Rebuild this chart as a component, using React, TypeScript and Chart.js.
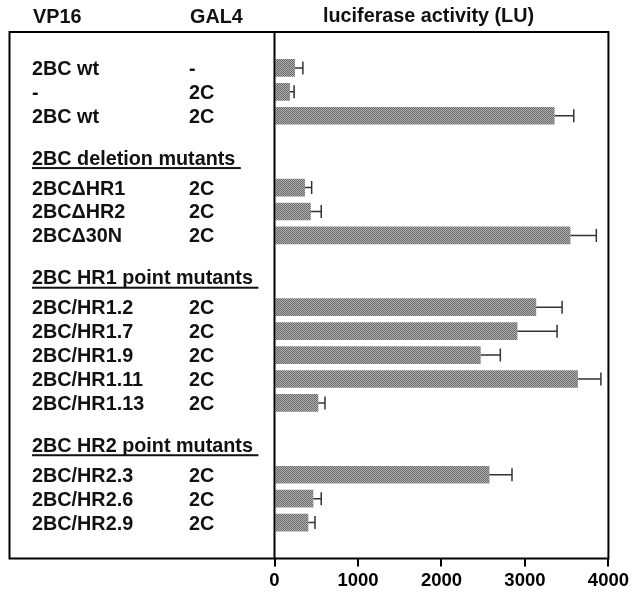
import React, { useEffect, useRef } from "react";
import { Chart, registerables } from "chart.js";

Chart.register(...registerables);

// ---- data ----
const columnHeaders = ["VP16", "GAL4"];
const axisTitle = "luciferase activity (LU)";
const groupTitles = ["", "2BC deletion mutants", "2BC HR1 point mutants", "2BC HR2 point mutants"];
const groupSizes = [3, 3, 5, 3];
const vp16Labels = [
  "2BC wt", "-", "2BC wt",
  "2BC\u0394HR1", "2BC\u0394HR2", "2BC\u039430N",
  "2BC/HR1.2", "2BC/HR1.7", "2BC/HR1.9", "2BC/HR1.11", "2BC/HR1.13",
  "2BC/HR2.3", "2BC/HR2.6", "2BC/HR2.9",
];
const gal4Labels = [
  "-", "2C", "2C",
  "2C", "2C", "2C",
  "2C", "2C", "2C", "2C", "2C",
  "2C", "2C", "2C",
];
const luciferase = [245, 185, 3355, 365, 435, 3545, 3135, 2910, 2470, 3635, 525, 2575, 465, 405];
const errorsLU = [95, 50, 230, 80, 125, 310, 310, 475, 235, 275, 80, 270, 95, 80];
const xTicks = [0, 1000, 2000, 3000, 4000];

// ---- build slot table (blank slots leave room for group titles) ----
const slotLabels: string[] = [];
const slotValues: (number | null)[] = [];
const slotErrors: (number | null)[] = [];
const slotVp16: string[] = [];
const slotGal4: string[] = [];
const headerSlots: { title: string; slot: number }[] = [];

function pushBlank() {
  slotLabels.push("");
  slotValues.push(null);
  slotErrors.push(null);
  slotVp16.push("");
  slotGal4.push("");
}
(function build() {
  let r = 0;
  pushBlank();
  groupSizes.forEach((n, g) => {
    if (g > 0) {
      pushBlank();
      pushBlank();
    }
    if (groupTitles[g]) headerSlots.push({ title: groupTitles[g], slot: slotLabels.length });
    for (let i = 0; i < n; i++) {
      slotLabels.push(vp16Labels[r]);
      slotValues.push(luciferase[r]);
      slotErrors.push(errorsLU[r]);
      slotVp16.push(vp16Labels[r]);
      slotGal4.push(gal4Labels[r]);
      r++;
    }
  });
  pushBlank();
})();

const FONT = "bold 19.8px 'Liberation Sans', Arial, Helvetica, sans-serif";

function makePattern(): CanvasPattern | string {
  const c = document.createElement("canvas");
  c.width = 2;
  c.height = 2;
  const g = c.getContext("2d");
  if (!g) return "#909090";
  g.fillStyle = "#b0b0b0";
  g.fillRect(0, 0, 2, 2);
  g.fillStyle = "#6a6a6a";
  g.fillRect(0, 0, 1, 1);
  g.fillRect(1, 1, 1, 1);
  const p = g.createPattern(c, "repeat");
  return p || "#909090";
}

const tablePlugin = {
  id: "tablePlugin",
  afterDatasetsDraw(chart: any) {
    const { ctx, chartArea } = chart;
    const x = chart.scales.x;
    const y = chart.scales.y;
    ctx.save();

    // error bars (upper only)
    ctx.strokeStyle = "#333";
    ctx.lineWidth = 1.5;
    slotValues.forEach((v, i) => {
      if (v == null) return;
      const e = slotErrors[i] as number;
      const x0 = x.getPixelForValue(v);
      const x1 = x.getPixelForValue(v + e);
      const yc = y.getPixelForValue(i);
      ctx.beginPath();
      ctx.moveTo(x0, yc);
      ctx.lineTo(x1, yc);
      ctx.moveTo(x1, yc - 6.5);
      ctx.lineTo(x1, yc + 6.5);
      ctx.stroke();
    });

    // frame
    ctx.strokeStyle = "#000";
    ctx.lineWidth = 2;
    const boxLeft = 9.5;
    ctx.strokeRect(boxLeft, chartArea.top, chartArea.right - boxLeft, chartArea.bottom - chartArea.top);
    ctx.beginPath();
    ctx.moveTo(chartArea.left, chartArea.top);
    ctx.lineTo(chartArea.left, chartArea.bottom);
    ctx.stroke();

    // text
    ctx.fillStyle = "#111";
    ctx.font = FONT;
    ctx.textAlign = "left";
    ctx.textBaseline = "alphabetic";
    const col1 = 32;
    const col2 = 189;
    ctx.fillText(columnHeaders[0], 33, 23);
    ctx.fillText(columnHeaders[1], 190, 23);
    ctx.fillText(axisTitle, 323, 22);

    const capHalf = 7;
    slotVp16.forEach((t, i) => {
      if (!t) return;
      const yc = y.getPixelForValue(i);
      ctx.fillText(t, col1, yc + capHalf);
      ctx.fillText(slotGal4[i], col2, yc + capHalf);
    });

    headerSlots.forEach((h) => {
      const yc = y.getPixelForValue(h.slot) - 30;
      const base = yc + capHalf;
      ctx.fillText(h.title, col1, base);
      const w = ctx.measureText(h.title + " ").width;
      ctx.fillRect(col1, base + 2.5, w, 2);
    });

    ctx.restore();
  },
};

export default function App() {
  const ref = useRef<HTMLCanvasElement | null>(null);
  useEffect(() => {
    if (!ref.current) return;
    const chart = new Chart(ref.current, {
      type: "bar",
      data: {
        labels: slotLabels,
        datasets: [
          {
            data: slotValues as any,
            backgroundColor: makePattern() as any,
            borderWidth: 0,
            barPercentage: 0.74,
            categoryPercentage: 1,
          },
        ],
      },
      options: {
        indexAxis: "y",
        responsive: false,
        animation: false,
        layout: { padding: { left: 274.5, right: 23.5, top: 32, bottom: 0 } },
        plugins: { legend: { display: false }, tooltip: { enabled: false }, title: { display: false } },
        scales: {
          y: { display: false },
          x: {
            min: 0,
            max: 4000,
            afterBuildTicks: (scale: any) => {
              scale.ticks = xTicks.map((v) => ({ value: v }));
            },
            afterFit: (scale: any) => {
              scale.height = 33.5;
            },
            border: { display: false },
            grid: {
              display: true,
              drawOnChartArea: false,
              drawTicks: true,
              tickLength: 8,
              color: "#000",
              lineWidth: 2,
            },
            ticks: {
              color: "#000",
              padding: 3,
              callback: (v: any) => String(v),
              font: { family: "'Liberation Sans', Arial, sans-serif", size: 18.5, weight: "bold" },
            },
          },
        },
      },
      plugins: [tablePlugin],
    });
    return () => chart.destroy();
  }, []);
  return (
    <div style={{ position: "absolute", left: 0, top: 0, width: 632, height: 592, background: "#fff" }}>
      <canvas ref={ref} width={632} height={592} style={{ display: "block" }} />
    </div>
  );
}
